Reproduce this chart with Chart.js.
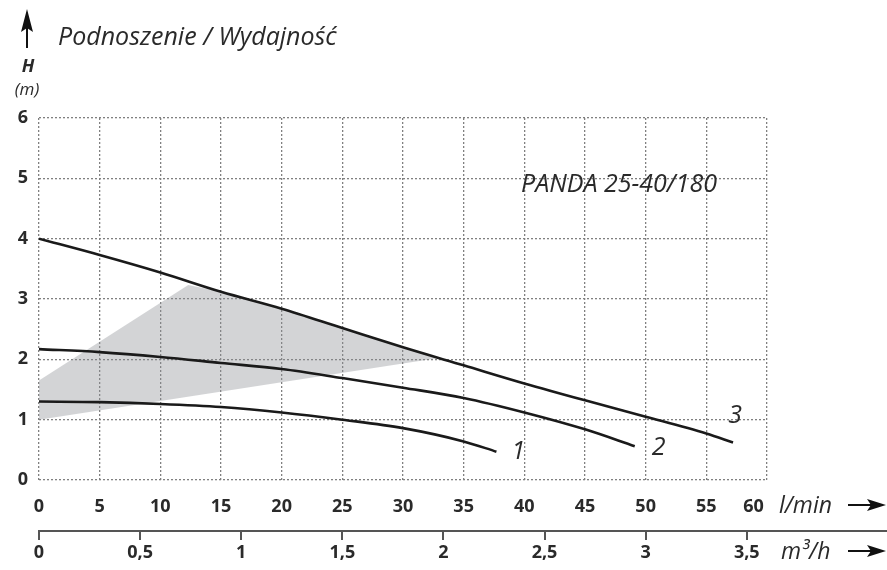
<!DOCTYPE html>
<html>
<head>
<meta charset="utf-8">
<script src="https://cdn.jsdelivr.net/npm/chart.js@4/dist/chart.umd.min.js"></script>
<style>
  html, body { margin: 0; padding: 0; background: #ffffff; }
  #wrap { width: 887px; height: 570px; position: relative; }
</style>
</head>
<body>
<div id="wrap"><canvas id="c" width="887" height="570"></canvas></div>
<script>
// ---- Data ----
const flowTicksLmin = [0, 5, 10, 15, 20, 25, 30, 35, 40, 45, 50, 55, 60];
const flowTicksM3h = [0, 0.5, 1, 1.5, 2, 2.5, 3, 3.5];
const headTicks = [0, 1, 2, 3, 4, 5, 6];

const curve1Flow = [0, 5, 10, 15, 20, 25, 30, 35, 37.7];
const curve1Head = [1.30, 1.29, 1.26, 1.21, 1.12, 1.00, 0.86, 0.64, 0.47];

const curve2Flow = [0, 5, 10, 15, 20, 25, 30, 35, 40, 45, 49.1];
const curve2Head = [2.17, 2.12, 2.04, 1.94, 1.84, 1.69, 1.53, 1.36, 1.12, 0.84, 0.56];

const curve3Flow = [0, 5, 10, 15, 20, 25, 30, 35, 40, 45, 50, 55, 57.2];
const curve3Head = [4.00, 3.73, 3.44, 3.12, 2.84, 2.52, 2.20, 1.90, 1.60, 1.32, 1.05, 0.77, 0.62];

// shaded working area (polygon outline)
const areaFlow = [0, 0, 12.3, 15, 20, 25, 30, 32.8, 0];
const areaHead = [1.0, 1.65, 3.23, 3.12, 2.84, 2.52, 2.20, 2.02, 1.0];

const curveNames = ['1', '2', '3'];
const titleText = 'Podnoszenie / Wydajność';
const modelText = 'PANDA 25-40/180';

const toXY = (xs, ys) => xs.map((x, i) => ({ x: x, y: ys[i] }));

const TEXT = '#2a2a2a';
const FONT = '"Open Sans", "Noto Sans", sans-serif';

function arrowRight(ctx, x0, x1, y) {
  ctx.save();
  ctx.strokeStyle = '#111';
  ctx.fillStyle = '#111';
  ctx.lineWidth = 2;
  ctx.beginPath();
  ctx.moveTo(x0, y);
  ctx.lineTo(x1 - 14, y);
  ctx.stroke();
  ctx.beginPath();
  ctx.moveTo(x1, y);
  ctx.lineTo(x1 - 19, y - 6);
  ctx.lineTo(x1 - 15, y);
  ctx.lineTo(x1 - 19, y + 6);
  ctx.closePath();
  ctx.fill();
  ctx.restore();
}

const decor = {
  id: 'decor',
  afterDraw(chart) {
    const ctx = chart.ctx;
    const xs = chart.scales.x, ys = chart.scales.y, x2 = chart.scales.x2;
    ctx.save();
    // up arrow
    ctx.strokeStyle = '#111';
    ctx.fillStyle = '#111';
    ctx.lineWidth = 2;
    ctx.beginPath();
    ctx.moveTo(27, 48);
    ctx.lineTo(27, 26);
    ctx.stroke();
    ctx.beginPath();
    ctx.moveTo(27, 9);
    ctx.lineTo(21, 32);
    ctx.lineTo(27, 28);
    ctx.lineTo(33, 32);
    ctx.closePath();
    ctx.fill();

    ctx.fillStyle = TEXT;
    ctx.textBaseline = 'middle';
    ctx.textAlign = 'left';
    ctx.font = 'italic 25px ' + FONT;
    ctx.fillText(titleText, 58, 38);

    ctx.textAlign = 'center';
    ctx.font = 'italic bold 18px ' + FONT;
    ctx.fillText('H', 28, 67);
    ctx.font = 'italic 17px ' + FONT;
    ctx.fillText('(m)', 27, 90);

    // model label
    ctx.textAlign = 'left';
    ctx.font = 'italic 25px ' + FONT;
    ctx.fillText(modelText, 521, 185);

    // curve numbers
    ctx.font = 'italic 25px ' + FONT;
    ctx.textAlign = 'center';
    const lastPts = [
      [curve1Flow[curve1Flow.length - 1], curve1Head[curve1Head.length - 1]],
      [curve2Flow[curve2Flow.length - 1], curve2Head[curve2Head.length - 1]],
      [curve3Flow[curve3Flow.length - 1], curve3Head[curve3Head.length - 1]]
    ];
    const offs = [[22, 0], [24, 2], [2, -27]];
    lastPts.forEach((p, i) => {
      ctx.fillText(curveNames[i], xs.getPixelForValue(p[0]) + offs[i][0], ys.getPixelForValue(p[1]) + offs[i][1]);
    });

    // unit labels
    ctx.textAlign = 'left';
    ctx.font = 'italic 23px ' + FONT;
    ctx.fillText('l/min', 779, 506);
    ctx.fillText('m\u00B3/h', 781, 552);

    // extend m3/h axis line to the right edge
    ctx.strokeStyle = '#555';
    ctx.lineWidth = 2;
    ctx.beginPath();
    ctx.moveTo(x2.left, x2.top + 1);
    ctx.lineTo(887, x2.top + 1);
    ctx.stroke();
    ctx.restore();

    arrowRight(ctx, 848, 886, 505);
    arrowRight(ctx, 848, 886, 551);
  }
};

new Chart(document.getElementById('c'), {
  type: 'line',
  data: {
    datasets: [
      { label: 'curve 1', data: toXY(curve1Flow, curve1Head), borderColor: '#1a1a1a', borderWidth: 2.6, pointRadius: 0, cubicInterpolationMode: 'monotone', fill: false, order: 0 },
      { label: 'curve 2', data: toXY(curve2Flow, curve2Head), borderColor: '#1a1a1a', borderWidth: 2.6, pointRadius: 0, cubicInterpolationMode: 'monotone', fill: false, order: 0 },
      { label: 'curve 3', data: toXY(curve3Flow, curve3Head), borderColor: '#1a1a1a', borderWidth: 2.6, pointRadius: 0, cubicInterpolationMode: 'monotone', fill: false, order: 0 },
      { label: 'area', data: toXY(areaFlow, areaHead), borderWidth: 0, borderColor: 'rgba(0,0,0,0)', backgroundColor: 'rgba(140,142,148,0.38)', pointRadius: 0, tension: 0, fill: 'shape', order: 5 }
    ]
  },
  options: {
    responsive: false,
    animation: false,
    devicePixelRatio: 1,
    layout: { padding: { left: 0, right: 120, top: 118, bottom: 0 } },
    plugins: { legend: { display: false }, tooltip: { enabled: false } },
    scales: {
      x: {
        type: 'linear', position: 'bottom', min: 0, max: 60,
        afterBuildTicks: s => { s.ticks = flowTicksLmin.map(v => ({ value: v })); },
        afterFit: s => { s.height = 50; },
        grid: { color: '#808080', lineWidth: 1.3, drawTicks: false, tickLength: 0 },
        border: { display: false, dash: [2, 2] },
        ticks: { padding: 16, color: TEXT, font: { family: FONT, size: 18, weight: 'bold' }, maxRotation: 0, autoSkip: false,
                 callback: v => (v === 60 ? String(v) + '\u2003\u2002' : String(v)) }
      },
      x2: {
        type: 'linear', position: 'bottom', min: 0, max: 3.6,
        afterBuildTicks: s => { s.ticks = flowTicksM3h.map(v => ({ value: v })); },
        afterFit: s => { s.height = 40; },
        grid: { drawOnChartArea: false, drawTicks: true, tickLength: 10, color: '#555', lineWidth: 2 },
        border: { display: false },
        ticks: { padding: 2, color: TEXT, font: { family: FONT, size: 18, weight: 'bold' }, maxRotation: 0, autoSkip: false,
                 callback: v => String(v).replace('.', ',') }
      },
      y: {
        type: 'linear', min: 0, max: 6,
        afterBuildTicks: s => { s.ticks = headTicks.map(v => ({ value: v })); },
        afterFit: s => { s.width = 39; },
        grid: { color: '#808080', lineWidth: 1.3, drawTicks: false, tickLength: 0 },
        border: { display: false, dash: [2, 2] },
        ticks: { padding: 11, color: TEXT, font: { family: FONT, size: 18, weight: 'bold' } }
      }
    }
  },
  plugins: [decor]
});
</script>
</body>
</html>
